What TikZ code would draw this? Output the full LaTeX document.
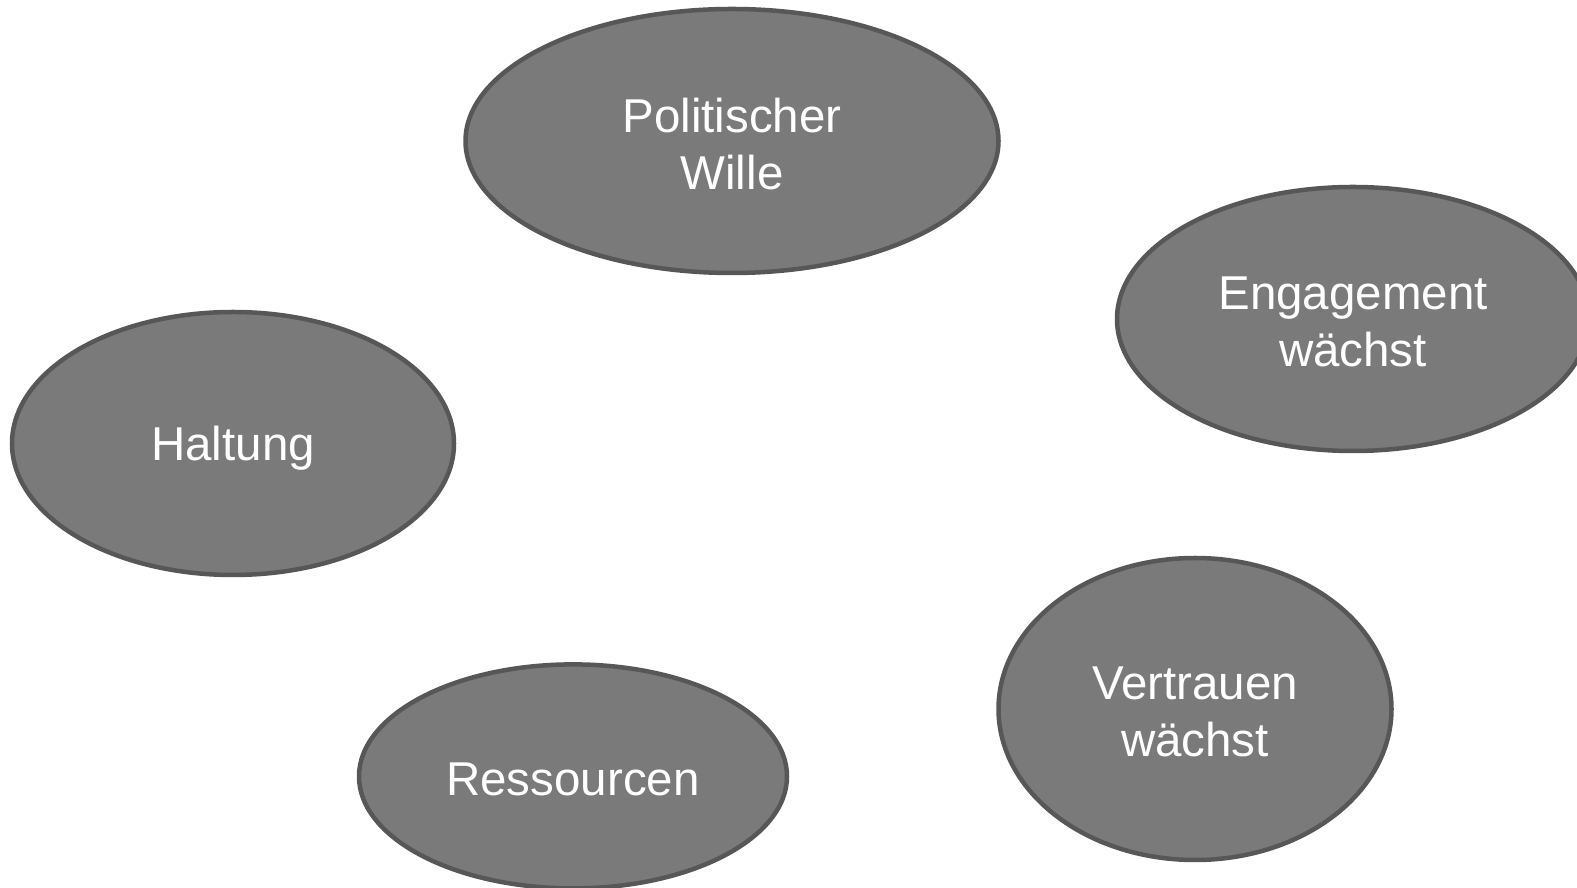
\documentclass[tikz,border=0pt]{standalone}
\usepackage{fontspec}
\setmainfont{Liberation Sans}
\usetikzlibrary{shapes.geometric}
\definecolor{ellfill}{HTML}{7A7A7A}
\definecolor{elldraw}{HTML}{575757}
\tikzset{
  bubble/.style={ellipse, fill=ellfill, draw=elldraw, line width=4.5pt,
    inner sep=0pt},
  bubbletext/.style={text=white, align=center, inner sep=0pt, yshift=-3pt,
    font=\fontsize{47.5}{57}\selectfont}
}
\begin{document}
\begin{tikzpicture}[x=1pt,y=1pt]
\useasboundingbox (0,0) rectangle (1577,888);
\clip (0,0) rectangle (1577,888);
\node[bubble, minimum width=533, minimum height=264,
  label={[bubbletext]center:Politischer\\Wille}] (pw) at (732,747) {};
\node[bubble, minimum width=472, minimum height=264,
  label={[bubbletext]center:Engagement\\wächst}] (eng) at (1353,569) {};
\node[bubble, minimum width=442, minimum height=263,
  label={[bubbletext, yshift=-2pt]center:Haltung}] (hal) at (233,444.5) {};
\node[bubble, minimum width=428, minimum height=224,
  label={[bubbletext]center:Ressourcen}] (res) at (573,111.6) {};
\node[bubble, minimum width=393, minimum height=302,
  label={[bubbletext]center:Vertrauen\\wächst}] (ver) at (1195,179) {};
\end{tikzpicture}
\end{document}
